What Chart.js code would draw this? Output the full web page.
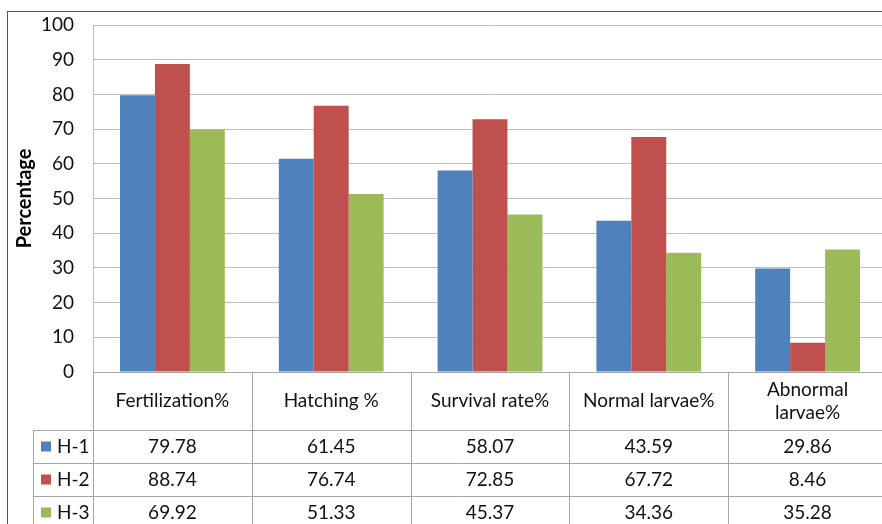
<!DOCTYPE html>
<html>
<head>
<meta charset="utf-8">
<script src="https://cdn.jsdelivr.net/npm/chart.js@4"></script>
<style>
  html, body { margin: 0; padding: 0; overflow: hidden; background: #fff; }
</style>
</head>
<body>
<canvas id="larvaeChart" width="892" height="524"></canvas>
<script>
const categories = ['Fertilization%', 'Hatching %', 'Survival rate%', 'Normal larvae%', ['Abnormal', 'larvae%']];
const seriesNames = ['H-1', 'H-2', 'H-3'];
const h1 = [79.78, 61.45, 58.07, 43.59, 29.86];
const h2 = [88.74, 76.74, 72.85, 67.72, 8.46];
const h3 = [69.92, 51.33, 45.37, 34.36, 35.28];
const colors = ['#4F81BD', '#C0504D', '#9BBB59'];

const FONT = 'Lato, Calibri, sans-serif';
const lineColor = '#a6a6a6';

// outer frame + data table below the plot (Excel style)
const tablePlugin = {
    id: 'dataTable',
    beforeDraw(chart) {
        const ctx = chart.ctx;
        ctx.save();
        ctx.fillStyle = '#fff';
        ctx.fillRect(0, 0, chart.width, chart.height);
        ctx.strokeStyle = '#555';
        ctx.lineWidth = 1;
        ctx.strokeRect(7.5, 11.5, 1000, 1000);
        ctx.restore();
    },
    afterDraw(chart) {
        const ctx = chart.ctx;
        const x = chart.scales.x;
        const area = chart.chartArea;
        const half = (x.getPixelForValue(1) - x.getPixelForValue(0)) / 2;
        const headTop = area.bottom;
        const headBottom = headTop + 58;
        const rowH = 33;
        const keyLeft = 33;
        const bottom = chart.height + 10;

        ctx.save();
        ctx.strokeStyle = lineColor;
        ctx.lineWidth = 1;
        ctx.beginPath();
        // horizontal lines
        ctx.moveTo(area.left, headTop + 0.5);
        ctx.lineTo(chart.width, headTop + 0.5);
        for (let r = 0; r < 3; r++) {
            const y = Math.round(headBottom + r * rowH) + 0.5;
            ctx.moveTo(keyLeft, y);
            ctx.lineTo(chart.width, y);
        }
        // vertical lines
        ctx.moveTo(keyLeft + 0.5, headBottom);
        ctx.lineTo(keyLeft + 0.5, bottom);
        for (let i = 0; i <= categories.length; i++) {
            const px = Math.round(x.getPixelForValue(i) - half) + 0.5;
            ctx.moveTo(px, headTop);
            ctx.lineTo(px, bottom);
        }
        ctx.stroke();

        ctx.fillStyle = '#111';
        ctx.font = '19px ' + FONT;
        ctx.textAlign = 'center';
        ctx.textBaseline = 'middle';
        categories.forEach((c, i) => {
            const cx = x.getPixelForValue(i);
            const lines = Array.isArray(c) ? c : [c];
            const mid = (headTop + headBottom) / 2;
            lines.forEach((t, k) => {
                ctx.fillText(t, cx, mid + (k - (lines.length - 1) / 2) * 23);
            });
        });

        chart.data.datasets.forEach((ds, r) => {
            const cy = headBottom + r * rowH + rowH / 2;
            ctx.fillStyle = ds.backgroundColor;
            ctx.fillRect(keyLeft + 8, cy - 5, 10, 10);
            ctx.fillStyle = '#111';
            ctx.textAlign = 'left';
            ctx.fillText(ds.label, keyLeft + 24, cy);
            ctx.textAlign = 'center';
            ds.data.forEach((v, i) => {
                ctx.fillText(v.toFixed(2), x.getPixelForValue(i), cy);
            });
        });
        ctx.restore();
    }
};

const ctx = document.getElementById('larvaeChart').getContext('2d');
const larvaeChart = new Chart(ctx, {
    type: 'bar',
    data: {
        labels: categories,
        datasets: [
            { label: seriesNames[0], data: h1, backgroundColor: colors[0] },
            { label: seriesNames[1], data: h2, backgroundColor: colors[1] },
            { label: seriesNames[2], data: h3, backgroundColor: colors[2] }
        ]
    },
    options: {
        responsive: false,
        animation: false,
        devicePixelRatio: 1,
        layout: {
            padding: { left: 0, top: 25, right: 5, bottom: 152 }
        },
        datasets: {
            bar: { categoryPercentage: 0.66, barPercentage: 1 }
        },
        scales: {
            x: {
                grid: { display: false },
                border: { display: false },
                ticks: { display: false },
                afterFit: function (scale) { scale.height = 0; }
            },
            y: {
                min: 0,
                max: 100,
                ticks: {
                    stepSize: 10,
                    padding: 19,
                    color: '#111',
                    font: { family: FONT, size: 19 }
                },
                grid: { color: '#bfbfbf', drawTicks: false },
                border: { color: '#bfbfbf' },
                title: {
                    display: true,
                    text: 'Percentage',
                    color: '#000',
                    font: { family: FONT, size: 20, weight: 'bold' },
                    padding: { top: 13, bottom: 0 }
                },
                afterFit: function (scale) {
                    scale.width = 93;
                    scale.paddingTop = 0;
                    scale.paddingBottom = 0;
                }
            }
        },
        plugins: {
            legend: { display: false },
            tooltip: { enabled: false }
        }
    },
    plugins: [tablePlugin]
});
</script>
</body>
</html>
